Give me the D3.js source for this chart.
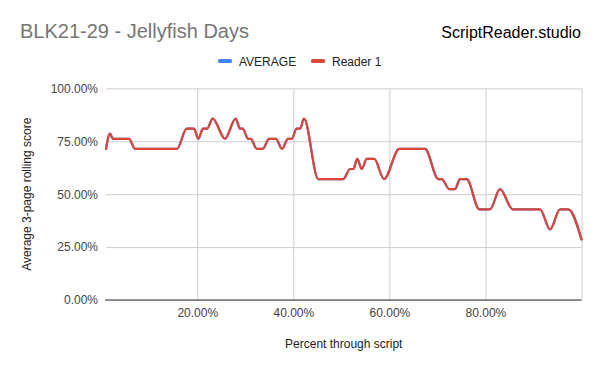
<!DOCTYPE html>
<html>
<head>
<meta charset="utf-8">
<script src="https://cdn.jsdelivr.net/npm/d3@7"></script>
<style>
  html, body { margin: 0; padding: 0; background: #fff; }
  svg { display: block; font-family: "Liberation Sans", Arial, sans-serif; }
</style>
</head>
<body>
<svg id="chart" width="600" height="371"></svg>
<script>
// ---- data ----
const pagePercent = [1.0, 1.83, 2.46, 5.79, 7.04, 15.78, 17.80, 19.32, 20.22, 21.20, 22.03, 23.22, 25.78, 28.00,
  28.90, 29.46, 30.57, 31.13, 32.38, 33.63, 34.94, 36.39, 37.64, 38.89, 39.66, 40.70, 41.39, 42.22, 45.20,
  50.41, 51.80, 52.49, 53.32, 54.24, 55.28, 56.86, 58.88, 62.07, 67.42, 70.19, 70.89, 72.48, 73.66, 74.70,
  76.10, 78.72, 80.95, 83.03, 85.68, 91.37, 93.45, 95.53, 97.25, 100.0];
const reader1 = [71.43, 78.6, 76.19, 76.19, 71.43, 71.43, 80.95, 80.95, 76.19, 80.95, 80.95, 85.71, 76.19, 85.71,
  80.95, 80.95, 76.19, 76.19, 71.43, 71.43, 76.19, 76.19, 71.43, 76.19, 76.19, 80.95, 80.95, 85.71, 57.14,
  57.14, 61.90, 61.90, 66.67, 61.90, 66.67, 66.67, 57.14, 71.43, 71.43, 57.14, 57.14, 52.38, 52.38, 57.14,
  57.14, 42.86, 42.86, 52.38, 42.86, 42.86, 33.33, 42.86, 42.86, 28.57];
const average = reader1.slice(); // single reader: average equals Reader 1
const yTicks = [0, 25, 50, 75, 100];
const xGridTicks = [20, 40, 60, 80, 100];
const xLabelTicks = [20, 40, 60, 80];
const seriesNames = ["AVERAGE", "Reader 1"];
const seriesColors = ["#4285f4", "#db4437"];

// ---- layout ----
const svg = d3.select("#chart");
const plotL = 106, plotR = 581.5, plotT = 88.4, plotB = 300;

const x = d3.scaleLinear().domain([1, 100]).range([plotL, plotR]);
const y = d3.scaleLinear().domain([0, 100]).range([plotB, plotT]);

// title
svg.append("text").attr("x", 20).attr("y", 38)
  .attr("font-size", 20).attr("fill", "#757575")
  .text("BLK21-29 - Jellyfish Days");
svg.append("text").attr("x", 581).attr("y", 38)
  .attr("text-anchor", "end").attr("font-size", 16).attr("fill", "#000")
  .text("ScriptReader.studio");

// legend
const legendX = [218, 311];
seriesNames.forEach((name, i) => {
  svg.append("rect").attr("x", legendX[i]).attr("y", 59).attr("width", 14).attr("height", 4)
    .attr("rx", 1.5).attr("fill", seriesColors[i]);
  svg.append("text").attr("x", legendX[i] + 21).attr("y", 65.5)
    .attr("font-size", 12).attr("fill", "#222").text(name);
});

// horizontal gridlines
const yAxis = d3.axisLeft(y).tickValues(yTicks).tickSize(-(plotR - plotL))
  .tickFormat(d => d3.format(".2f")(d) + "%").tickPadding(8);
const gy = svg.append("g").attr("transform", `translate(${plotL},0)`).call(yAxis);
gy.select(".domain").remove();
gy.selectAll(".tick line").attr("stroke", "#cccccc").attr("stroke-width", 1);
gy.selectAll(".tick text").attr("font-size", 12).attr("fill", "#444").attr("font-family", "Liberation Sans, Arial, sans-serif");

// vertical gridlines
const xGrid = d3.axisBottom(x).tickValues(xGridTicks).tickSize(-(plotB - plotT)).tickFormat("");
const gxg = svg.append("g").attr("transform", `translate(0,${plotB})`).call(xGrid);
gxg.select(".domain").remove();
gxg.selectAll(".tick line").attr("stroke", "#cccccc").attr("stroke-width", 1);

// x labels
const xAxis = d3.axisBottom(x).tickValues(xLabelTicks).tickSize(0).tickPadding(8)
  .tickFormat(d => d3.format(".2f")(d) + "%");
const gx = svg.append("g").attr("transform", `translate(0,${plotB})`).call(xAxis);
gx.select(".domain").remove();
gx.selectAll(".tick text").attr("font-size", 12).attr("fill", "#444").attr("font-family", "Liberation Sans, Arial, sans-serif");

// zero baseline
svg.append("line").attr("x1", plotL - 1).attr("x2", plotR).attr("y1", y(0)).attr("y2", y(0))
  .attr("stroke", "#333").attr("stroke-width", 1);

// axis titles
svg.append("text").attr("x", (plotL + plotR) / 2).attr("y", 348)
  .attr("text-anchor", "middle").attr("font-size", 12).attr("fill", "#222")
  .text("Percent through script");
svg.append("text").attr("transform", `translate(31,${(plotT + plotB) / 2}) rotate(-90)`)
  .attr("text-anchor", "middle").attr("font-size", 12).attr("fill", "#222")
  .text("Average 3-page rolling score");

// lines
const line = d3.line().x((d, i) => x(pagePercent[i])).y(d => y(d)).curve(d3.curveMonotoneX);
[average, reader1].forEach((s, i) => {
  svg.append("path").datum(s).attr("d", line).attr("fill", "none")
    .attr("stroke", seriesColors[i]).attr("stroke-width", 2.2)
    .attr("stroke-linejoin", "round").attr("stroke-linecap", "round");
});
</script>
</body>
</html>
